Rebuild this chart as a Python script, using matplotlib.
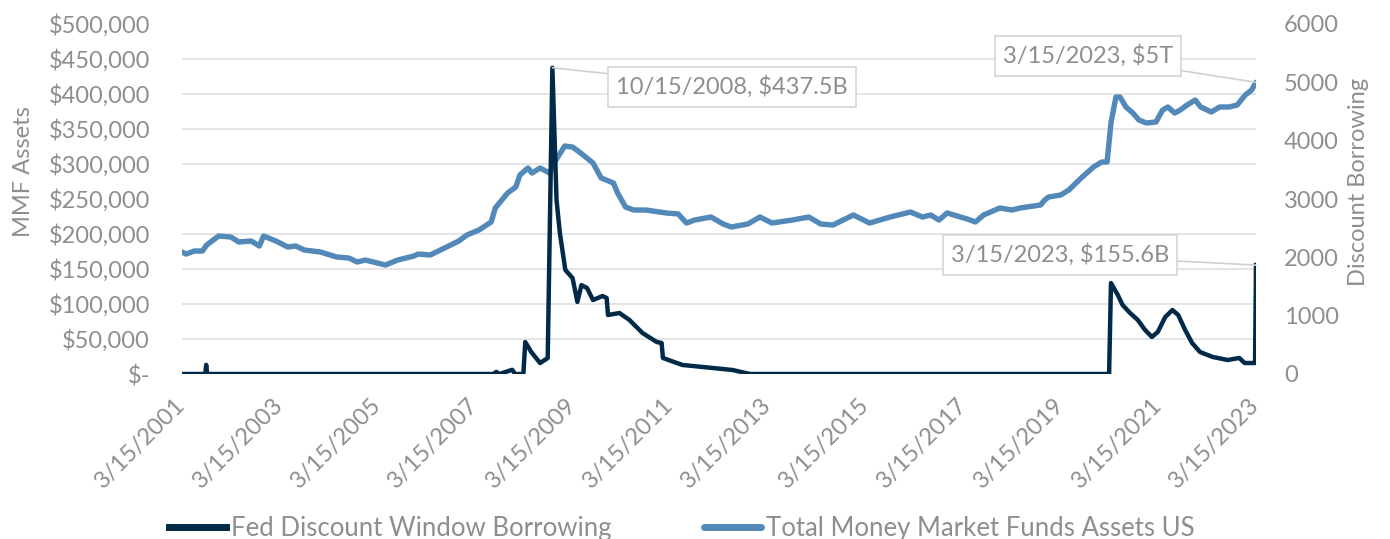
import pandas as pd
import matplotlib
matplotlib.use("Agg")
import matplotlib.pyplot as plt
from matplotlib.ticker import FuncFormatter, MultipleLocator

plt.rcParams['font.family'] = ['Lato', 'DejaVu Sans']

# Fed discount window borrowing ($ millions, left axis)
fed_dates = [
    "2001-03-15", "2001-09-05", "2001-09-12", "2001-09-19", "2007-08-01", "2007-08-22",
    "2007-09-15", "2007-12-20", "2008-01-10", "2008-03-12", "2008-03-26", "2008-05-10",
    "2008-07-15", "2008-09-10", "2008-10-15", "2008-11-15", "2008-12-10", "2009-01-20",
    "2009-03-15", "2009-04-20", "2009-05-20", "2009-07-01", "2009-08-15", "2009-10-25",
    "2009-11-25", "2009-12-05", "2010-03-01", "2010-05-15", "2010-08-20", "2010-12-05",
    "2011-01-10", "2011-01-20", "2011-06-15", "2011-11-15", "2012-06-25", "2012-11-01",
    "2020-03-11", "2020-03-25", "2020-05-15", "2020-06-20", "2020-08-15", "2020-10-12",
    "2020-12-05", "2021-01-25", "2021-03-10", "2021-05-05", "2021-06-28", "2021-08-10",
    "2021-10-01", "2021-11-22", "2022-01-20", "2022-04-25", "2022-08-15", "2022-11-10",
    "2022-12-20", "2023-03-08", "2023-03-15",
]
fed_values = [
    0, 0, 13000, 0, 0, 3000,
    0, 6000, 0, 0, 45700, 31400,
    15700, 22800, 437500, 248600, 201400, 148600,
    137000, 102900, 127000, 122900, 105700, 111400,
    108600, 84300, 87100, 77100, 58600, 45700,
    44300, 22900, 12900, 10000, 5700, 0,
    0, 130000, 112900, 98600, 87100, 77100,
    62900, 52900, 60000, 81400, 91400, 84300,
    62900, 44300, 31400, 24300, 20000, 22900,
    15700, 15700, 155600,
]

# Total money market fund assets ($ billions, right axis)
mmf_dates = [
    "2001-03-15", "2001-04-15", "2001-06-15", "2001-08-15", "2001-09-15", "2001-12-15",
    "2002-03-15", "2002-05-15", "2002-08-15", "2002-10-15", "2002-11-15", "2003-02-15",
    "2003-05-15", "2003-07-15", "2003-09-15", "2004-01-15", "2004-05-15", "2004-08-15",
    "2004-10-15", "2004-12-15", "2005-05-15", "2005-08-15", "2005-12-15", "2006-01-15",
    "2006-04-15", "2006-08-15", "2006-11-15", "2007-01-15", "2007-04-15", "2007-07-15",
    "2007-08-15", "2007-11-15", "2008-01-15", "2008-02-15", "2008-04-15", "2008-05-15",
    "2008-07-15", "2008-09-25", "2008-11-15", "2009-01-15", "2009-03-15", "2009-05-15",
    "2009-08-15", "2009-10-15", "2010-01-15", "2010-02-15", "2010-04-15", "2010-06-15",
    "2010-09-15", "2011-02-15", "2011-05-15", "2011-07-15", "2011-09-15", "2012-01-15",
    "2012-04-15", "2012-06-15", "2012-10-15", "2013-01-15", "2013-04-15", "2013-09-15",
    "2014-01-15", "2014-04-15", "2014-07-15", "2014-12-15", "2015-04-15", "2015-09-15",
    "2016-02-15", "2016-05-15", "2016-07-15", "2016-09-15", "2016-11-15", "2017-04-15",
    "2017-06-15", "2017-08-15", "2017-12-15", "2018-03-15", "2018-05-15", "2018-10-15",
    "2018-11-15", "2018-12-15", "2019-03-15", "2019-05-15", "2019-08-15", "2019-11-15",
    "2020-01-15", "2020-02-25", "2020-03-25", "2020-05-01", "2020-06-01", "2020-07-15",
    "2020-09-05", "2020-10-20", "2020-12-15", "2021-02-25", "2021-04-15", "2021-05-25",
    "2021-07-15", "2021-08-25", "2021-10-15", "2021-12-15", "2022-01-25", "2022-04-15",
    "2022-06-15", "2022-08-25", "2022-10-25", "2022-12-25", "2023-02-10", "2023-03-15",
]
mmf_values = [
    2091, 2057, 2108, 2108, 2211, 2366,
    2348, 2263, 2280, 2194, 2366, 2280,
    2177, 2194, 2126, 2091, 2006, 1988,
    1920, 1954, 1868, 1954, 2023, 2057,
    2040, 2177, 2280, 2383, 2469, 2606,
    2846, 3103, 3206, 3411, 3531, 3445,
    3531, 3445, 3685, 3908, 3891, 3788,
    3617, 3360, 3274, 3103, 2863, 2811,
    2811, 2760, 2743, 2588, 2640, 2691,
    2571, 2520, 2571, 2691, 2588, 2640,
    2691, 2571, 2554, 2726, 2588, 2691,
    2777, 2691, 2726, 2640, 2760, 2657,
    2606, 2726, 2846, 2811, 2846, 2897,
    2983, 3034, 3069, 3154, 3360, 3548,
    3634, 3634, 4303, 4748, 4748, 4577,
    4474, 4354, 4303, 4320, 4525, 4577,
    4474, 4525, 4611, 4697, 4577, 4491,
    4577, 4577, 4611, 4783, 4868, 5000,
]

tick_years = list(range(2001, 2024, 2))

dark = "#002a48"
light = "#5289b9"
grey = "#8e8e8e"

fed_x = pd.to_datetime(fed_dates)
mmf_x = pd.to_datetime(mmf_dates)

fig = plt.figure(figsize=(13.9, 5.39), dpi=100)
ax = fig.add_axes([182 / 1390, 1 - 374 / 539, 1074 / 1390, 350 / 539])
ax2 = ax.twinx()

ax2.plot(mmf_x, mmf_values, color=light, lw=3.9, solid_capstyle='round',
         label="Total Money Market Funds Assets US")
ax.plot(fed_x, fed_values, color=dark, lw=3.2, solid_joinstyle='round',
        label="Fed Discount Window Borrowing")

# dark line drawn over the light one
ax.set_zorder(ax2.get_zorder() + 1)
ax.patch.set_visible(False)

ax.set_xlim(pd.Timestamp("2001-03-15"), pd.Timestamp("2023-03-15"))
ax.set_ylim(0, 500000)
ax2.set_ylim(0, 6000)

ticks = [pd.Timestamp(f"{y}-03-15") for y in tick_years]
ax.set_xticks(ticks)
ax.set_xticklabels([f"3/15/{y}" for y in tick_years], rotation=45, ha='right',
                   rotation_mode='anchor', va='center')

ax.yaxis.set_major_locator(MultipleLocator(50000))
ax.yaxis.set_major_formatter(FuncFormatter(lambda v, p: "$-" if v == 0 else f"${v:,.0f}"))
ax2.yaxis.set_major_locator(MultipleLocator(1000))
ax2.yaxis.set_major_formatter(FuncFormatter(lambda v, p: f"{v:.0f}"))

# gridlines every $50,000 on the left scale (600 on the right scale)
ax2.yaxis.set_minor_locator(MultipleLocator(600))
ax2.grid(which='minor', axis='y', color='#e0e0e0', lw=1.2)
ax2.set_axisbelow(True)

for a in (ax, ax2):
    for s in a.spines.values():
        s.set_visible(False)
    a.tick_params(length=0, which='both', colors=grey, labelsize=17)
ax.tick_params(axis='y', pad=23)
ax.tick_params(axis='x', pad=20)
ax2.tick_params(axis='y', pad=20)

ax.set_ylabel("MMF Assets", color=grey, fontsize=17)
ax.yaxis.set_label_coords(-0.138, 0.577)
ax2.set_ylabel("Discount Borrowing", color=grey, fontsize=17)
ax2.yaxis.set_label_coords(1.086, 0.549)

box = dict(boxstyle='square,pad=0.35', fc='white', ec='#d4d4d4', lw=1.2)
arrow = dict(arrowstyle='-', color='#d0d0d0', lw=1.2, shrinkA=0, shrinkB=0)

ax.annotate("10/15/2008, $437.5B", xy=(pd.Timestamp("2008-10-15"), 437500),
            xytext=(732, 452), textcoords='figure pixels', ha='center', va='center',
            fontsize=17, color=grey, bbox=box, arrowprops=arrow)
ax.annotate("3/15/2023, $155.6B", xy=(pd.Timestamp("2023-03-15"), 155600),
            xytext=(1060, 284), textcoords='figure pixels', ha='center', va='center',
            fontsize=17, color=grey, bbox=box, arrowprops=arrow)
ax2.annotate("3/15/2023, $5T", xy=(pd.Timestamp("2023-03-15"), 5000),
             xytext=(1088, 483), textcoords='figure pixels', ha='center', va='center',
             fontsize=17, color=grey, bbox=box, arrowprops=arrow)

h1, l1 = ax.get_legend_handles_labels()
h2, l2 = ax2.get_legend_handles_labels()
leg = fig.legend(h1 + h2, l1 + l2, loc='center', bbox_to_anchor=(0.4906, 0.02),
                 ncol=2, frameon=False, fontsize=18.5, handlelength=2.2,
                 handletextpad=0.2, columnspacing=3.6)
for t in leg.get_texts():
    t.set_color(grey)
for line in leg.get_lines():
    line.set_linewidth(5)

fig.savefig("out.png", dpi=100)
